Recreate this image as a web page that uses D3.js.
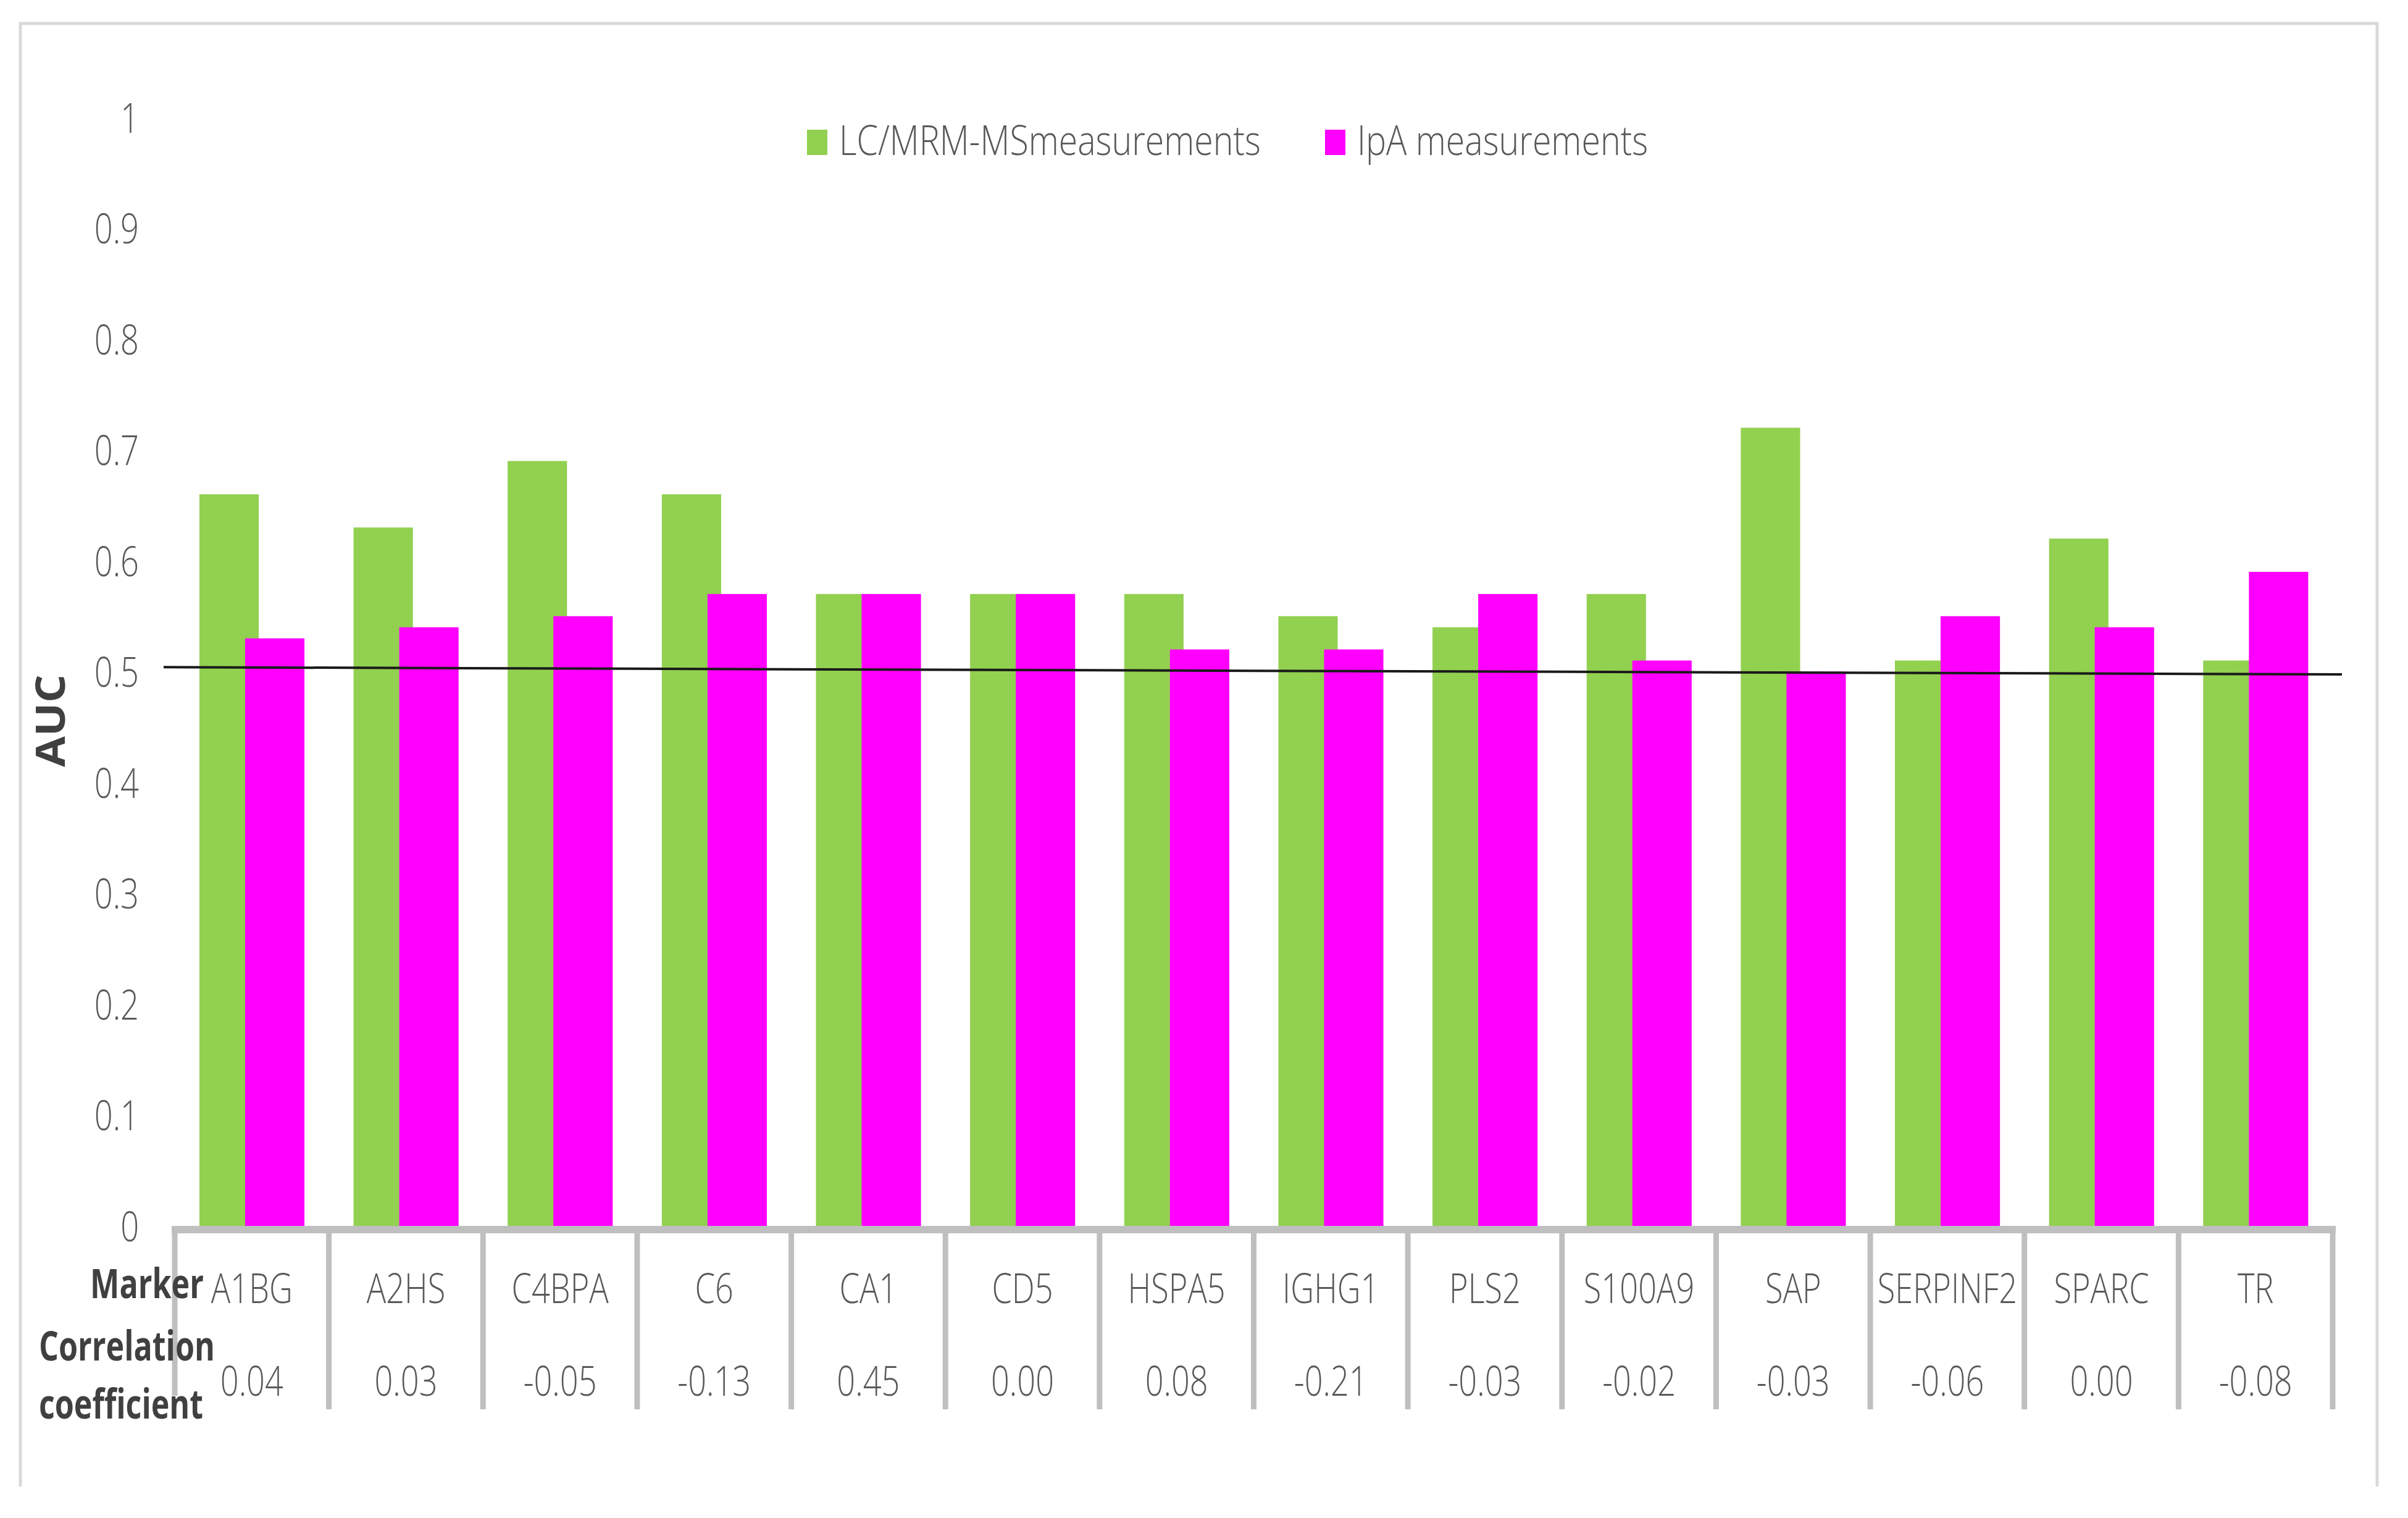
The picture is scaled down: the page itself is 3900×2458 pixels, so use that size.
<!DOCTYPE html>
<html>
<head>
<meta charset="utf-8">
<script src="https://cdn.jsdelivr.net/npm/d3@7"></script>
<style>
  html, body { margin: 0; padding: 0; background: #fff; }
  svg { display: block; }
  .lbl { font-family: "Open Sans", "Noto Sans", sans-serif; }
</style>
</head>
<body>
<script>
// ---- data ----
const categories = ["A1BG","A2HS","C4BPA","C6","CA1","CD5","HSPA5","IGHG1","PLS2","S100A9","SAP","SERPINF2","SPARC","TR"];
const lcmrmValues = [0.66,0.63,0.69,0.66,0.57,0.57,0.57,0.55,0.54,0.57,0.72,0.51,0.62,0.51];
const ipaValues   = [0.53,0.54,0.55,0.57,0.57,0.57,0.52,0.52,0.57,0.51,0.50,0.55,0.54,0.59];
const correlations = ["0.04","0.03","-0.05","-0.13","0.45","0.00","0.08","-0.21","-0.03","-0.02","-0.03","-0.06","0.00","-0.08"];
const seriesNames = ["LC/MRM-MSmeasurements","IpA measurements"];
const seriesColors = ["#92D050","#FF00FF"];
const yTicks = [0,0.1,0.2,0.3,0.4,0.5,0.6,0.7,0.8,0.9,1];
const refLine = [0.504, 0.4975]; // reference line value at left and right end
const rowLabels = ["Marker", "Correlation", "coefficient"];
const yTitle = "AUC";

// ---- layout ----
const W = 3900, H = 2458;
const FONT = 67;
const svg = d3.select("body").append("svg").attr("width", W).attr("height", H);

// horizontal compression factors so glyphs look like the narrow original font
function measure(str, weight) {
  const t = svg.append("text").attr("class", "lbl").attr("font-size", FONT).attr("font-weight", weight).text(str);
  const w = t.node().getComputedTextLength();
  t.remove();
  return w;
}
const SX = 132 / measure("A1BG", 300);
const SXB = 285 / measure("Correlation", "bold");
const SXL = 683 / measure(seriesNames[0], 300);
const SXT = 150 / measure(yTitle, "bold");

function label(parent, x, y, str, o = {}) {
  const g = parent.append("g").attr("transform", `translate(${x},${y})`);
  const sx = o.sx || (o.bold ? SXB : SX);
  return g.append("text").attr("class", "lbl")
    .attr("transform", `scale(${sx},1)`)
    .attr("font-size", FONT)
    .attr("font-weight", o.bold ? "bold" : 300)
    .attr("fill", o.bold ? "#404040" : "#595959")
    .attr("text-anchor", o.anchor || "start")
    .text(str);
}

// outer frame
svg.append("path").attr("d", `M33,2407 L33,38 L3850,38 L3850,2407`)
  .attr("stroke", "#d9d9d9").attr("stroke-width", 5).attr("fill", "none");

const x = d3.scaleBand().domain(categories).range([283, 3778]).paddingInner(0).paddingOuter(0);
const y = d3.scaleLinear().domain([0, 1]).range([1985, 190]);
const bw = x.bandwidth();
const barW = bw * 0.385;
const gapL = bw * 0.16;
const step = barW * 0.77;
const sub = d3.scaleLinear().domain([0, 1]).range([gapL, gapL + step]);

// y axis labels
const yAxis = d3.axisLeft(y).tickValues(yTicks).tickSize(0).tickPadding(0)
  .tickFormat(d => String(+d.toFixed(1)));
const yg = svg.append("g").attr("transform", "translate(225,0)").call(yAxis);
yg.select(".domain").remove();
yg.selectAll("text").attr("class", "lbl").attr("font-size", FONT).attr("font-weight", 300)
  .attr("fill", "#595959").attr("dy", "0.36em").attr("transform", `scale(${SX},1)`);

// y title
const yt = svg.append("g").attr("transform", `translate(105,1167) rotate(-90)`);
yt.append("text").attr("class", "lbl").attr("transform", `scale(${SXT},1)`)
  .attr("text-anchor", "middle").attr("font-size", FONT).attr("font-weight", "bold").attr("fill", "#404040")
  .text(yTitle);

// bars
const seriesData = [lcmrmValues, ipaValues];
seriesData.forEach((vals, si) => {
  svg.append("g").selectAll("rect").data(vals).join("rect")
    .attr("x", (d, i) => x(categories[i]) + sub(si))
    .attr("y", d => y(d))
    .attr("width", barW)
    .attr("height", d => y(0) - y(d))
    .attr("fill", seriesColors[si]);
});

// reference line
const [rx0, rx1] = x.range();
svg.append("line")
  .attr("x1", rx0 - 18).attr("y1", y(refLine[0]))
  .attr("x2", rx1 + 15).attr("y2", y(refLine[1]))
  .attr("stroke", "#1a1a1a").attr("stroke-width", 4);

// table: axis line and separators
const tg = svg.append("g").attr("stroke", "#bfbfbf");
tg.append("line").attr("x1", rx0 - 5).attr("x2", rx1 + 5).attr("y1", y(0) + 6).attr("y2", y(0) + 6).attr("stroke-width", 12);
const seps = d3.range(categories.length + 1).map(i => rx0 + i * bw);
tg.selectAll("line.sep").data(seps).join("line").attr("class", "sep")
  .attr("x1", d => d).attr("x2", d => d)
  .attr("y1", y(0))
  .attr("y2", (d, i) => i === 0 ? 2260 : 2282)
  .attr("stroke-width", 9);

// marker labels + correlation labels
const tbl = svg.append("g");
categories.forEach((c, i) => {
  label(tbl, x(c) + bw / 2, 2110, c, { anchor: "middle" });
  label(tbl, x(c) + bw / 2, 2260, correlations[i], { anchor: "middle" });
});

// row labels
label(svg, 330, 2102, rowLabels[0], { bold: true, anchor: "end" });
label(svg, 63, 2203, rowLabels[1], { bold: true });
label(svg, 63, 2297, rowLabels[2], { bold: true });

// legend
const legX = [1307, 2146];
const lg = svg.append("g");
seriesNames.forEach((name, i) => {
  lg.append("rect").attr("x", legX[i]).attr("y", 210).attr("width", 33).attr("height", 41).attr("fill", seriesColors[i]);
  label(lg, legX[i] + 52, 251, name, { sx: SXL });
});
</script>
</body>
</html>
